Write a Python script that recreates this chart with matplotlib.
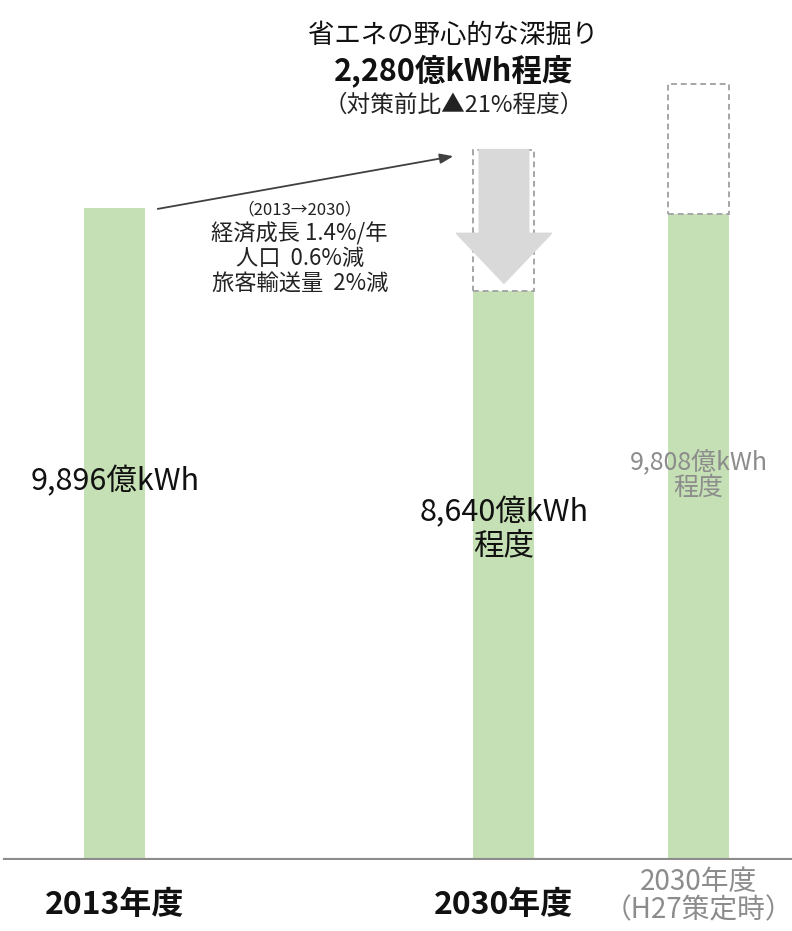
import matplotlib
matplotlib.use("Agg")
import matplotlib.pyplot as plt
from matplotlib.patches import FancyArrow

plt.rcParams['font.family'] = ['Noto Sans CJK JP', 'DejaVu Sans']

# data (億kWh)
categories = ["2013年度", "2030年度", "2030年度\n(H27策定時)"]
x_pos = [0, 2, 3]
values = [9896, 8640, 9808]
prior_tops = [None, 10780, 11770]   # dashed outline tops
value_labels = ["9,896億kWh", "8,640億kWh\n程度", "9,808億kWh\n程度"]
saving = 2280

green = "#c5e0b4"
grey_txt = "#8c8c8c"

fig = plt.figure(figsize=(7.92, 9.31), dpi=100)
ax = fig.add_axes([0, 71 / 931, 1, 860 / 931])
ax.set_xlim(-0.591, 3.481)
ax.set_ylim(0, 13050)
ax.axis("off")

w = 0.314
ax.bar(x_pos, values, width=w, color=green, zorder=2)

# dashed outlines of the energy before savings
for x, v, top in zip(x_pos, values, prior_tops):
    if top is None:
        continue
    ax.bar(x, top - v, bottom=v, width=w, fill=False, edgecolor="#a6a6a6",
           linestyle=(0, (3, 2)), linewidth=1.4, zorder=3)

# grey arrow showing the cut
a_top = prior_tops[1]
a_tip = values[1] + 110
arr = FancyArrow(x_pos[1], a_top, 0, a_tip - a_top, width=0.255,
                 head_width=0.49, head_length=760, length_includes_head=True,
                 color="#d9d9d9", zorder=4)
ax.add_patch(arr)

# baseline
ax.axhline(0, xmin=0.006, xmax=1, color="#8c8c8c", linewidth=3, zorder=5)

# trend arrow from 2013 to BAU
ax.annotate("", xy=(1.74, 10680), xytext=(0.22, 9880),
            arrowprops=dict(arrowstyle="-|>,head_length=0.8,head_width=0.3",
                            color="#404040", lw=1.3, shrinkA=0, shrinkB=0))

# value labels
ax.text(x_pos[0], 5740, value_labels[0], ha="center", va="center",
        fontsize=22, color="#111111", zorder=6)
ax.text(x_pos[1], 5020, value_labels[1], ha="center", va="center",
        fontsize=22, color="#111111", linespacing=1.05, zorder=6)
ax.text(x_pos[2], 5840, value_labels[2], ha="center", va="center",
        fontsize=18, color=grey_txt, linespacing=1.0, zorder=6)

# assumptions
ax.text(0.95, 9870, "（2013→2030）", ha="center", va="center", fontsize=12,
        color="#222222")
ax.text(0.95, 9130, "経済成長 1.4%/年\n人口  0.6%減\n旅客輸送量  2%減",
        ha="center", va="center", fontsize=16, color="#222222",
        linespacing=1.08)

# headline
ax.text(1.74, 12520, "省エネの野心的な深掘り", ha="center", va="center",
        fontsize=19, color="#111111")
ax.text(1.74, 11960, f"{saving:,}億kWh程度", ha="center", va="center",
        fontsize=22, fontweight="bold", color="#111111")
ax.text(1.74, 11460, "（対策前比▲21%程度）", ha="center", va="center",
        fontsize=17, color="#222222")

# category labels
for i, (x, c) in enumerate(zip(x_pos, categories)):
    if i < 2:
        ax.text(x, -683, c, ha="center", va="center", fontsize=23,
                fontweight="bold", color="#111111", clip_on=False)
    else:
        ax.text(x, -546, c.replace("(", "（").replace(")", "）"), ha="center",
                va="center", fontsize=20, color=grey_txt, linespacing=0.95,
                clip_on=False)

fig.savefig("out.png", dpi=100)
